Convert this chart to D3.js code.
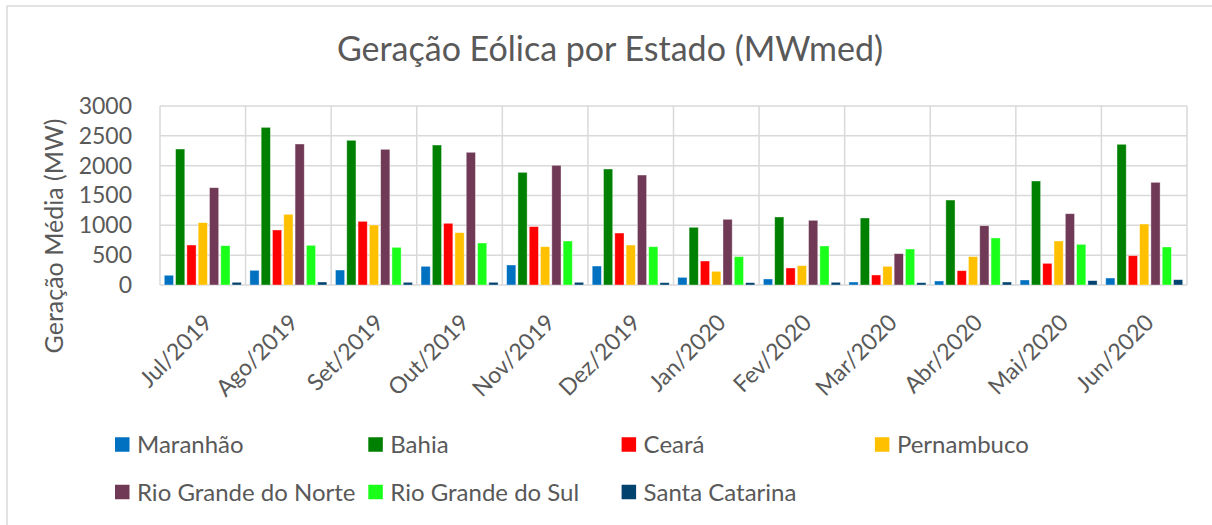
<!DOCTYPE html>
<html>
<head>
<meta charset="utf-8">
<script src="https://cdn.jsdelivr.net/npm/d3@7"></script>
<style>
  body { margin: 0; background: #fff; }
  svg { display: block; font-family: Lato, "Open Sans", sans-serif; }
  text { fill: #595959; }
</style>
</head>
<body>
<div id="chart"></div>
<script>
// months on the x axis
const months = ["Jul/2019", "Ago/2019", "Set/2019", "Out/2019", "Nov/2019", "Dez/2019",
  "Jan/2020", "Fev/2020", "Mar/2020", "Abr/2020", "Mai/2020", "Jun/2020"];

const states = ["Maranhão", "Bahia", "Ceará", "Pernambuco",
  "Rio Grande do Norte", "Rio Grande do Sul", "Santa Catarina"];

const colors = ["#0070C0", "#008000", "#FF0000", "#FFC000", "#703A56", "#1AFF1A", "#01426F"];

// MWmed, one array per state
const maranhao   = [163, 246, 251, 313, 335, 318, 128, 101, 50, 67, 84, 117];
const bahia      = [2279, 2642, 2425, 2346, 1888, 1944, 967, 1140, 1123, 1424, 1743, 2358];
const ceara      = [670, 922, 1067, 1034, 978, 871, 402, 285, 168, 240, 363, 491];
const pernambuco = [1045, 1185, 1005, 877, 642, 670, 229, 324, 313, 475, 737, 1022];
const rgNorte    = [1631, 2363, 2274, 2224, 2006, 1843, 1101, 1084, 525, 994, 1195, 1721];
const rgSul      = [659, 665, 631, 704, 737, 642, 475, 654, 603, 788, 682, 637];
const stCatarina = [45, 50, 45, 45, 45, 39, 39, 45, 39, 50, 73, 89];

const series = [maranhao, bahia, ceara, pernambuco, rgNorte, rgSul, stCatarina];
const yTicks = [0, 500, 1000, 1500, 2000, 2500, 3000];

let width = 1212;
let height = 525;
let plot = { left: 160, right: 1187, top: 106, bottom: 285 };

let svg = d3.select("#chart")
  .append("svg")
  .attr("width", width)
  .attr("height", height);

// outer chart border
svg.append("rect")
  .attr("x", 7)
  .attr("y", 6)
  .attr("width", 1215)
  .attr("height", 530)
  .attr("fill", "none")
  .attr("stroke", "#d9d9d9")
  .attr("stroke-width", 1.5);

let x = d3.scaleBand().domain(months).range([plot.left, plot.right]);
let x1 = d3.scaleBand().domain(states).range([0, x.bandwidth()])
  .paddingInner(0.186).paddingOuter(0.38);
let y = d3.scaleLinear().domain([0, 3000]).range([plot.bottom, plot.top]);

// gridlines
let grid = svg.append("g").attr("stroke", "#d9d9d9").attr("stroke-width", 1.5);
grid.selectAll(".hgrid")
  .data(yTicks)
  .enter()
  .append("line")
  .attr("x1", plot.left)
  .attr("x2", plot.right)
  .attr("y1", d => y(d))
  .attr("y2", d => y(d));
grid.selectAll(".vgrid")
  .data(months.concat(["end"]))
  .enter()
  .append("line")
  .attr("x1", (d, i) => plot.left + i * x.step())
  .attr("x2", (d, i) => plot.left + i * x.step())
  .attr("y1", plot.top)
  .attr("y2", plot.bottom);

// bars
let groups = svg.append("g")
  .selectAll("g")
  .data(months)
  .enter()
  .append("g")
  .attr("transform", d => `translate(${x(d)},0)`);

groups.selectAll("rect")
  .data((m, i) => states.map((s, j) => ({ state: s, idx: j, value: series[j][i] })))
  .enter()
  .append("rect")
  .attr("x", d => x1(d.state))
  .attr("width", x1.bandwidth())
  .attr("y", d => y(d.value))
  .attr("height", d => y(0) - y(d.value))
  .attr("fill", d => colors[d.idx])
  .attr("stroke", "#fff")
  .attr("stroke-opacity", 0.5)
  .attr("stroke-width", 0.75);

// y axis labels
svg.append("g")
  .attr("transform", "translate(132,0)")
  .call(d3.axisLeft(y).tickValues(yTicks).tickSize(0).tickPadding(0).tickFormat(d3.format("d")))
  .call(g => g.select(".domain").remove())
  .selectAll("text")
  .attr("font-size", 23)
  .attr("font-family", "Lato")
  .attr("fill", "#595959");

// x axis labels
svg.append("g")
  .selectAll("text")
  .data(months)
  .enter()
  .append("text")
  .attr("transform", d => `translate(${x(d) + x.bandwidth() / 2 + 11},324) rotate(-45)`)
  .attr("text-anchor", "end")
  .attr("font-size", 23)
  .text(d => d);

// titles
svg.append("text")
  .attr("x", 610)
  .attr("y", 61)
  .attr("text-anchor", "middle")
  .attr("font-size", 34)
  .text("Geração Eólica por Estado (MWmed)");

svg.append("text")
  .attr("transform", "translate(63,236) rotate(-90)")
  .attr("text-anchor", "middle")
  .attr("font-size", 25)
  .text("Geração Média (MW)");

// legend
let legend = svg.append("g")
  .selectAll("g")
  .data(states)
  .enter()
  .append("g")
  .attr("transform", (d, i) => `translate(${115 + (i < 4 ? i : i - 4) * 253.3},${i < 4 ? 444.5 : 492})`);

legend.append("rect")
  .attr("y", -7.25)
  .attr("width", 14.5)
  .attr("height", 14.5)
  .attr("fill", (d, i) => colors[i]);

legend.append("text")
  .attr("x", 22)
  .attr("dy", "0.36em")
  .attr("font-size", 24)
  .text(d => d);
</script>
</body>
</html>
